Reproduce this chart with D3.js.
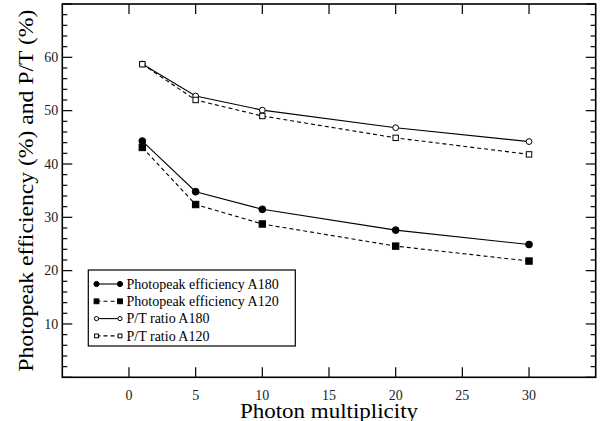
<!DOCTYPE html>
<html>
<head>
<meta charset="utf-8">
<script src="https://cdn.jsdelivr.net/npm/d3@7"></script>
<style>
  body { margin: 0; background: #fff; }
</style>
</head>
<body>
<div id="chart"></div>
<script>
// Data
const multiplicity = [1, 5, 10, 20, 30];
const peakA180 = [44.3, 34.8, 31.5, 27.6, 24.9];
const peakA120 = [43.1, 32.4, 28.75, 24.6, 21.8];
const ptA180 = [58.75, 52.75, 50.1, 46.8, 44.2];
const ptA120 = [58.7, 52.0, 49.0, 44.9, 41.8];

const xTicks = [0, 5, 10, 15, 20, 25, 30];
const yTicks = [10, 20, 30, 40, 50, 60];
const yMajor = [0, 10, 20, 30, 40, 50, 60, 70];
const yMinor = d3.range(2, 70, 2).filter(v => v % 10 !== 0);

const seriesNames = ['Photopeak efficiency A180', 'Photopeak efficiency A120', 'P/T ratio A180', 'P/T ratio A120'];

const FONT = "'Liberation Serif', 'Tinos', 'Nimbus Roman', 'FreeSerif', 'Noto Serif', 'DejaVu Serif', serif";

const width = 600, height = 421;
const margin = { left: 62.3, right: 4.3, top: 4, bottom: 43.7 };

const svg = d3.select('#chart')
    .append('svg')
    .attr('width', width)
    .attr('height', height)
    .style('display', 'block')
    .attr('font-family', FONT);

const x = d3.scaleLinear().domain([-5, 35]).range([margin.left, width - margin.right]);
const y = d3.scaleLinear().domain([0, 70]).range([height - margin.bottom, margin.top]);

const x0 = x.range()[0], x1 = x.range()[1];
const y0 = y.range()[0], y1 = y.range()[1];

// Ticks (inward, on all four sides)
const ticks = svg.append('g').attr('stroke', '#000').attr('stroke-width', 1.2);
xTicks.forEach(v => {
    ticks.append('line').attr('x1', x(v)).attr('x2', x(v)).attr('y1', y0).attr('y2', y0 - 10);
    ticks.append('line').attr('x1', x(v)).attr('x2', x(v)).attr('y1', y1).attr('y2', y1 + 10);
});
yMajor.forEach(v => {
    ticks.append('line').attr('x1', x0).attr('x2', x0 + 10).attr('y1', y(v)).attr('y2', y(v));
    ticks.append('line').attr('x1', x1).attr('x2', x1 - 10).attr('y1', y(v)).attr('y2', y(v));
});
yMinor.forEach(v => {
    ticks.append('line').attr('x1', x0).attr('x2', x0 + 5).attr('y1', y(v)).attr('y2', y(v));
    ticks.append('line').attr('x1', x1).attr('x2', x1 - 5).attr('y1', y(v)).attr('y2', y(v));
});

// Tick labels
svg.append('g')
    .selectAll('text')
    .data(xTicks)
    .join('text')
    .attr('x', d => x(d))
    .attr('y', y0 + 22.5)
    .attr('text-anchor', 'middle')
    .attr('font-family', FONT)
    .attr('font-size', 14)
    .attr('fill', '#222')
    .text(d => d);

svg.append('g')
    .selectAll('text')
    .data(yTicks)
    .join('text')
    .attr('x', x0 - 4)
    .attr('y', d => y(d) + 4.7)
    .attr('text-anchor', 'end')
    .attr('font-family', FONT)
    .attr('font-size', 14)
    .attr('fill', '#222')
    .text(d => d);

// Axis titles
svg.append('text')
    .attr('x', (x0 + x1) / 2)
    .attr('y', 418)
    .attr('text-anchor', 'middle')
    .attr('font-family', FONT)
    .attr('font-size', 20)
    .attr('textLength', 178)
    .attr('lengthAdjust', 'spacingAndGlyphs')
    .text('Photon multiplicity');

svg.append('text')
    .attr('transform', `translate(33,${(y0 + y1) / 2}) rotate(-90)`)
    .attr('text-anchor', 'middle')
    .attr('font-family', FONT)
    .attr('font-size', 21)
    .attr('textLength', 362)
    .attr('lengthAdjust', 'spacingAndGlyphs')
    .text('Photopeak efficiency (%) and P/T (%)');

// Series
const series = [
    { name: seriesNames[0], values: peakA180, dash: null, shape: 'circle', fill: '#000' },
    { name: seriesNames[1], values: peakA120, dash: '4,3', shape: 'square', fill: '#000' },
    { name: seriesNames[2], values: ptA180, dash: null, shape: 'circle', fill: '#fff' },
    { name: seriesNames[3], values: ptA120, dash: '4,3', shape: 'square', fill: '#fff' }
];

const line = d3.line().x(d => x(d[0])).y(d => y(d[1]));

function marker(g, shape, fill, cx, cy, s) {
    if (shape === 'circle') {
        g.append('circle')
            .attr('cx', cx).attr('cy', cy)
            .attr('r', fill === '#000' ? s : s - 0.5)
            .attr('fill', fill)
            .attr('stroke', '#000')
            .attr('stroke-width', 1);
    } else {
        const h = fill === '#000' ? s - 0.2 : s - 0.7;
        g.append('rect')
            .attr('x', cx - h).attr('y', cy - h)
            .attr('width', 2 * h).attr('height', 2 * h)
            .attr('fill', fill)
            .attr('stroke', '#000')
            .attr('stroke-width', 1);
    }
}

series.forEach(s => {
    const pts = multiplicity.map((m, i) => [m, s.values[i]]);
    const g = svg.append('g');
    g.append('path')
        .attr('d', line(pts))
        .attr('fill', 'none')
        .attr('stroke', '#000')
        .attr('stroke-width', 1.1)
        .attr('stroke-dasharray', s.dash);
    pts.forEach(p => marker(g, s.shape, s.fill, x(p[0]), y(p[1]), 3.4));
});

// Legend
const legend = svg.append('g');
legend.append('rect')
    .attr('x', 88.3).attr('y', 270)
    .attr('width', 207).attr('height', 76)
    .attr('fill', '#fff')
    .attr('stroke', '#000')
    .attr('stroke-width', 1.2);

series.forEach((s, i) => {
    const ly = 284 + i * 17.3;
    legend.append('line')
        .attr('x1', 96.5).attr('x2', 120)
        .attr('y1', ly).attr('y2', ly)
        .attr('stroke', '#000')
        .attr('stroke-width', 1.1)
        .attr('stroke-dasharray', s.dash);
    marker(legend, s.shape, s.fill, 96.5, ly, 2.6);
    marker(legend, s.shape, s.fill, 120, ly, 2.6);
    legend.append('text')
        .attr('x', 126.5)
        .attr('y', ly + 4.8)
        .attr('font-family', FONT)
        .attr('font-size', 14)
        .text(s.name);
});

// Frame
svg.append('rect')
    .attr('x', x0).attr('y', y1)
    .attr('width', x1 - x0).attr('height', y0 - y1)
    .attr('fill', 'none')
    .attr('stroke', '#000')
    .attr('stroke-width', 1.6);
</script>
</body>
</html>
